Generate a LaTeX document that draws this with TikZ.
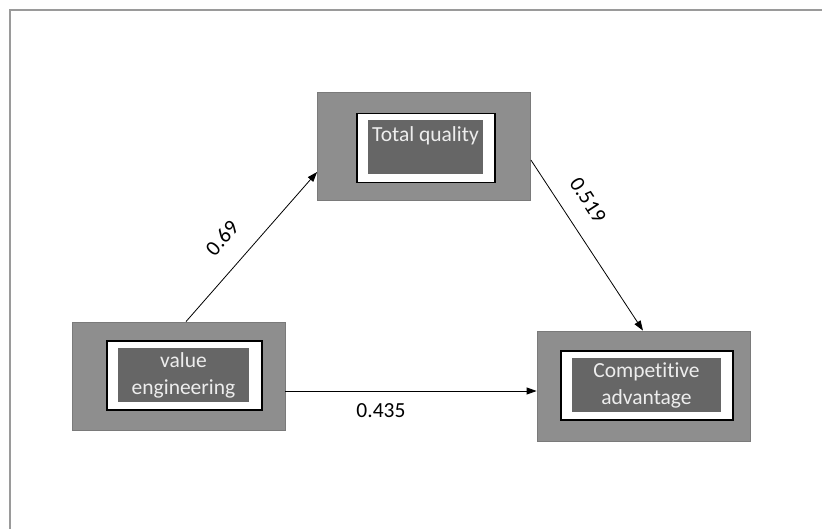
\documentclass[tikz,border=0pt]{standalone}
\usepackage{fontspec}
\setmainfont{Carlito}[Ligatures=NoCommon]
\usepackage{xcolor}
\usepackage{tikz}
\usetikzlibrary{arrows.meta, positioning, calc}
\definecolor{boxgray}{HTML}{8E8E8E}
\definecolor{edgegray}{HTML}{7A7A7A}
\definecolor{darkfill}{HTML}{666666}
\definecolor{textgray}{HTML}{EDEDED}
\definecolor{framegray}{HTML}{9A9A9A}

\begin{document}
\begin{tikzpicture}[
    x=1pt, y=-1pt,
    outerbox/.style={rectangle, draw=edgegray, fill=boxgray, line width=0.8pt, minimum width=213pt, minimum height=108pt, inner sep=0pt},
    whitebox/.style={rectangle, draw=black, fill=white, line width=1.4pt, minimum height=69pt, inner sep=0pt},
    darkbox/.style={rectangle, fill=darkfill, minimum height=54pt, inner sep=0pt, text=textgray, align=center, font=\fontsize{21.5}{27}\selectfont},
    arr/.style={-{Triangle[length=10pt, width=7pt]}, line width=0.8pt},
    weight/.style={font=\fontsize{21.5}{25}\selectfont, inner sep=0pt}
]
\useasboundingbox (0,0) rectangle (822,529);
\draw[framegray, line width=1.6pt] (10,529) |- (822,10);

\node[outerbox] (tq) at (424,146) {};
\node[whitebox, minimum width=138pt] (tqwhite) at (426,148) {};
\node[darkbox, minimum width=115pt] (tqdark) at (425.5,147) {Total quality\\[-2pt]\mbox{}};

\node[outerbox] (ve) at (178.5,376) {};
\node[whitebox, minimum width=155pt] (vewhite) at (184.5,375.5) {};
\node[darkbox, minimum width=131pt] (vedark) at (183.5,375) {value\\engineering};

\node[outerbox, minimum height=110pt] (ca) at (643.5,386) {};
\node[whitebox, minimum width=172pt] (cawhite) at (647,385.5) {};
\node[darkbox, minimum width=149pt] (cadark) at (646.5,385) {Competitive\\advantage};

\draw[arr] ([xshift=7.5pt]ve.north) -- ([yshift=-26pt]tq.west);
\draw[arr] ([yshift=-14pt]tq.east) -- ([xshift=-0.5pt]ca.north);
\draw[arr] ([yshift=-15pt]ve.east) -- ([yshift=-5pt]ca.west);

\node[weight, rotate=49] (w1) at (222,238) {0.69};
\node[weight, rotate=-57] (w2) at (588,200) {0.519};
\node[weight] (w3) at (381,411) {0.435};
\end{tikzpicture}
\end{document}
